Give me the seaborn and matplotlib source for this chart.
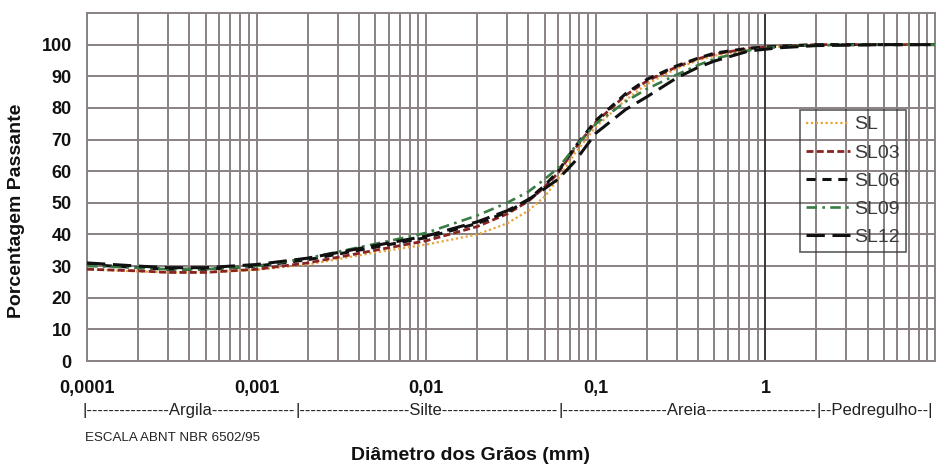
import numpy as np
import pandas as pd
import matplotlib
matplotlib.use("Agg")
import matplotlib.pyplot as plt
import seaborn as sns

# ---- data ----
diam = [0.0001, 0.0002, 0.0003, 0.0005, 0.001, 0.002, 0.005, 0.01, 0.02, 0.03,
        0.04, 0.05, 0.06, 0.075, 0.1, 0.15, 0.2, 0.3, 0.4, 0.5, 0.8, 1.2, 2, 5, 10]
SL   = [29.0, 28.3, 28.0, 28.0, 28.8, 30.5, 34.3, 36.8, 40.0, 43.5,
        47.5, 52.0, 57.5, 65.5, 74.0, 82.5, 87.5, 92.5, 95.0, 96.5, 98.5, 99.3, 99.8, 100, 100]
SL03 = [29.0, 28.5, 28.0, 28.0, 29.0, 31.0, 35.0, 38.0, 42.5, 46.5,
        50.5, 55.0, 59.5, 67.0, 75.5, 84.0, 88.5, 93.0, 95.5, 97.0, 98.8, 99.5, 100, 100, 100]
SL06 = [30.5, 29.5, 29.0, 29.0, 30.0, 32.0, 36.0, 39.0, 43.5, 47.0,
        51.0, 55.5, 60.0, 67.5, 76.0, 84.5, 89.0, 93.3, 95.7, 97.3, 98.9, 99.5, 100, 100, 100]
SL09 = [30.0, 29.5, 29.0, 29.0, 30.0, 32.5, 37.0, 40.5, 46.0, 50.0,
        53.5, 57.5, 61.0, 67.5, 75.0, 82.0, 86.0, 90.5, 93.5, 95.5, 98.2, 99.3, 99.8, 100, 100]
SL12 = [31.0, 30.0, 29.5, 29.5, 30.5, 32.5, 36.5, 39.5, 44.0, 47.5,
        51.0, 54.5, 57.5, 63.0, 72.0, 79.5, 83.5, 89.5, 92.8, 94.8, 98.0, 99.0, 99.7, 100, 100]
series_names = ["SL", "SL03", "SL06", "SL09", "SL12"]
series_vals = [SL, SL03, SL06, SL09, SL12]
xtick_vals = [0.0001, 0.001, 0.01, 0.1, 1]
xtick_labels = ["0,0001", "0,001", "0,01", "0,1", "1"]
ytick_vals = list(range(0, 101, 10))
classes = ["Argila", "Silte", "Areia", "Pedregulho"]
class_bounds = [0.0001, 0.0017, 0.06, 2, 10]

df = pd.concat([pd.DataFrame({"d": diam, "p": v, "s": n})
                for n, v in zip(series_names, series_vals)])

sns.set_theme(style="white")
plt.rcParams["font.family"] = ["Liberation Sans", "DejaVu Sans"]

fig = plt.figure(figsize=(9.39, 4.70), dpi=100)
ax = fig.add_axes([87/939, 1-361/470, 848/939, 348/470])

palette = {"SL": "#e8a33a", "SL03": "#8b2222", "SL06": "#111111",
           "SL09": "#3a7d44", "SL12": "#111111"}
dashes = {"SL": (1, 1.2), "SL03": (2.5, 1.2), "SL06": (3, 2.2),
          "SL09": (4, 2, 1, 2), "SL12": (6, 2.5)}
widths = {"SL": 1.6, "SL03": 2.0, "SL06": 2.2, "SL09": 1.9, "SL12": 2.2}

sns.lineplot(data=df, x="d", y="p", hue="s", style="s", palette=palette,
             dashes=dashes, hue_order=series_names, style_order=series_names,
             legend=False, ax=ax, zorder=3)
for line, n in zip(ax.get_lines(), series_names):
    line.set_linewidth(widths[n])

ax.set_xscale("log")
ax.set_xlim(1e-4, 10)
ax.set_ylim(0, 110)
gc = "#8a8282"
ax.grid(True, which="both", axis="x", color=gc, lw=1.4)
ax.grid(True, which="major", axis="y", color=gc, lw=1.4)
ax.axvline(1, color="#3a3a3a", lw=1.4, zorder=2)
for sp in ax.spines.values():
    sp.set_color(gc)
    sp.set_linewidth(1.4)
ax.set_xticks(xtick_vals)
ax.set_xticklabels(xtick_labels, fontsize=13, fontweight="bold")
ax.set_yticks(ytick_vals)
ax.set_yticklabels([str(v) for v in ytick_vals], fontsize=13, fontweight="bold")
ax.tick_params(axis="both", which="both", length=0, labelcolor="#111111")
ax.tick_params(axis="x", pad=14)
ax.tick_params(axis="y", pad=11)
ax.set_xlabel("")
ax.set_ylabel("Porcentagem Passante", fontsize=14, fontweight="bold",
              color="#111111")
ax.yaxis.set_label_coords((25-87)/848, (361-211)/348)

handles = ax.get_lines()[:5]
leg = ax.legend(handles, series_names, loc="upper left",
                bbox_to_anchor=((800-87)/848, (361-110)/348),
                fontsize=14, frameon=True, fancybox=False, handlelength=2.25,
                handletextpad=0.25, labelspacing=0.54, borderpad=0.3,
                borderaxespad=0)
leg.get_frame().set_facecolor("none")
leg.get_frame().set_edgecolor("#333333")
leg.get_frame().set_linewidth(1.2)
for t in leg.get_texts():
    t.set_color("#3a3a3a")

fig.text(471/939, (470-455)/470, "Diâmetro dos Grãos (mm)", ha="center",
         va="center", fontsize=14, fontweight="bold", color="#111111")
fig.text(85/939, (470-438)/470, "ESCALA ABNT NBR 6502/95", ha="left",
         va="center", fontsize=9.6, color="#222222")

# class annotation row
fig.canvas.draw()
r = fig.canvas.get_renderer()
fs = 12
def tw(s):
    t = fig.text(0, 0, s, fontsize=fs)
    w = t.get_window_extent(r).width
    t.remove()
    return w
dw = tw("-" * 20) / 20
bw = tw("|")
yrow = (470-411)/470
for i, lab in enumerate(classes):
    a = ax.transData.transform((class_bounds[i], 0))[0]
    b = ax.transData.transform((class_bounds[i+1], 0))[0]
    if i == 0:
        a -= 4
    avail = b - a - bw
    last = i == len(classes) - 1
    if last:
        avail -= bw
    total = max(2, int(round((avail - tw(lab)) / dw)))
    left = total // 2
    right = total - left
    s = "|" + "-" * left + lab + "-" * right + ("|" if last else "")
    fig.text(a / fig.bbox.width, yrow, s, ha="left", va="center",
             fontsize=fs, color="#222222")

fig.savefig("out.png", dpi=100, facecolor="white")
